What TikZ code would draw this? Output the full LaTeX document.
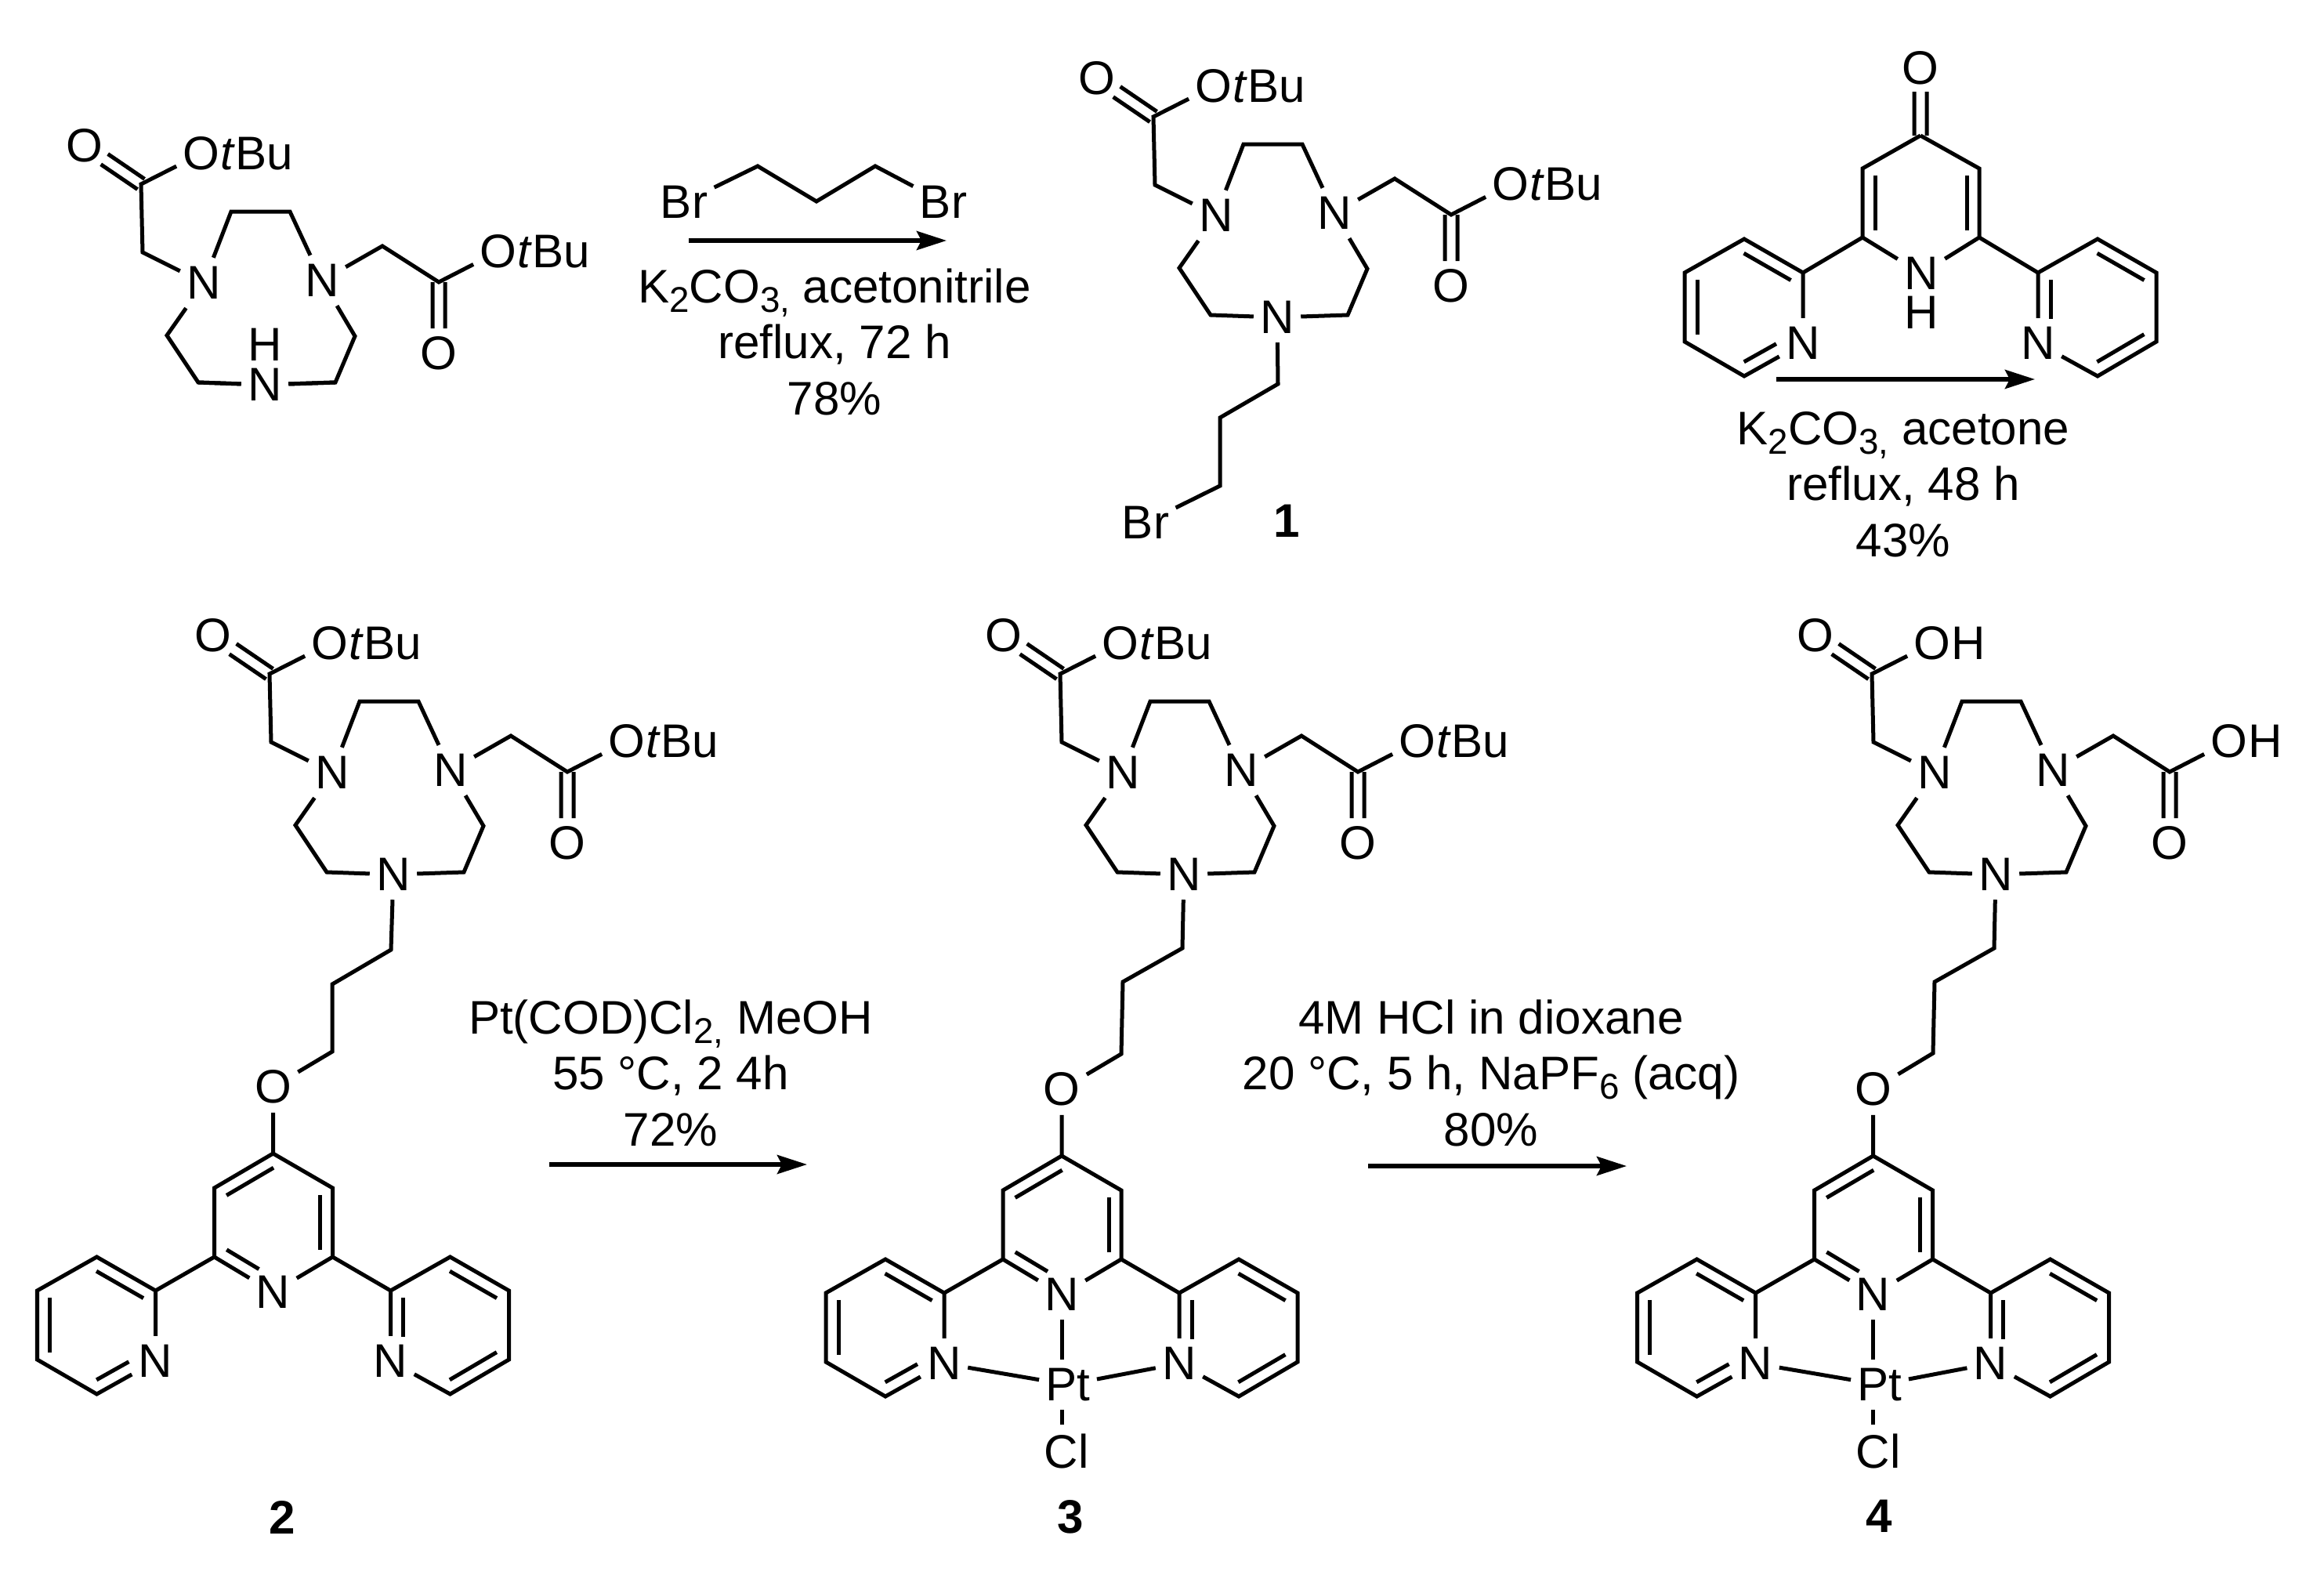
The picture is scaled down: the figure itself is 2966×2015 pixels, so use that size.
\documentclass[tikz,border=0pt]{standalone}
\usepackage{fontspec}
\setmainfont{Liberation Sans}
\usetikzlibrary{arrows.meta,calc}
\newcommand{\chemfont}[0]{\fontsize{17.1}{20.2}\selectfont}
\newcommand{\sbs}[1]{\raisebox{-.12cm}[0pt][0pt]{\fontsize{13}{14}\selectfont #1}}
\newcommand{\inbond}[3][.1]{\draw ($(#2)!.1!(#3)!.16cm!90:(#3)$) -- ($(#2)!1-#1!(#3)!.16cm!90:(#3)$);}
\newcommand{\dblbond}[2]{%
  \draw ($(#1)!.08cm!90:(#2)$) -- ($(#1)!.65!(#2)!.08cm!90:(#2)$);
  \draw ($(#1)!.08cm!-90:(#2)$) -- ($(#1)!.65!(#2)!.08cm!-90:(#2)$);}
\newcommand{\azacycle}[3]{%
  \begin{scope}[shift={(#2)}]
    \node[main node] (#1n1) at (0,0) {N};
    \node[main node] (#1n2) at (151,-3) {N};
    \node[main node] (#1n3) at (78,130) {N};
    \coordinate (#1tl) at (35,-91);
    \coordinate (#1tr) at (110,-91);
    \coordinate (#1r) at (193,68);
    \coordinate (#1br) at (168,127);
    \coordinate (#1bl) at (-7,127);
    \coordinate (#1l) at (-47,67);
    \coordinate (#1a1) at (-78,-39);
    \coordinate (#1a2) at (-80,-126);
    \node[main node] (#1a3) at (-152,-175) {O};
    \node[main node] (#1a4) at (-3,-165) {O};
    \node[tail node] (#1a5) at (#1a4.base east) {#3};
    \coordinate (#1b1) at (228,-47);
    \coordinate (#1b2) at (300,-1);
    \node[main node] (#1b3) at (300,90) {O};
    \node[main node] (#1b4) at (376,-40) {O};
    \node[tail node] (#1b5) at (#1b4.base east) {#3};
  \end{scope}
  \draw (#1n1) -- (#1tl) -- (#1tr) -- (#1n2) -- (#1r) -- (#1br) -- (#1n3) -- (#1bl) -- (#1l) -- (#1n1);
  \draw (#1n1) -- (#1a1) -- (#1a2) -- (#1a4);
  \draw (#1n2) -- (#1b1) -- (#1b2) -- (#1b4);
  \dblbond{#1a2}{#1a3}
  \dblbond{#1b2}{#1b3}}
\newcommand{\pyridyls}[2]{%
  \begin{scope}[shift={(#2)}]
    \coordinate (#1lc) at (-150,175);
    \coordinate (#1lt) at (-225,132);
    \coordinate (#1lu) at (-301,175);
    \coordinate (#1ld) at (-301,263);
    \coordinate (#1lb) at (-225,307);
    \node[main node] (#1ln) at (-150,265) {N};
    \coordinate (#1rc) at (150,175);
    \coordinate (#1rt) at (226,132);
    \coordinate (#1ru) at (301,175);
    \coordinate (#1rd) at (301,263);
    \coordinate (#1rb) at (226,307);
    \node[main node] (#1rn) at (150,265) {N};
  \end{scope}
  \draw (#1lc) -- (#1lt) -- (#1lu) -- (#1ld) -- (#1lb) -- (#1ln) -- (#1lc);
  \draw (#1rc) -- (#1rt) -- (#1ru) -- (#1rd) -- (#1rb) -- (#1rn) -- (#1rc);
  \inbond{#1lc}{#1lt}
  \inbond{#1lu}{#1ld}
  \inbond[.35]{#1lb}{#1ln}
  \inbond[.35]{#1rc}{#1rn}
  \inbond{#1rb}{#1rd}
  \inbond{#1ru}{#1rt}}
\newcommand{\terpy}[2]{%
  \pyridyls{#1}{#2}
  \begin{scope}[shift={(#2)}]
    \coordinate (#1p) at (0,0);
    \coordinate (#1cl) at (-75,44);
    \coordinate (#1dl) at (-75,132);
    \coordinate (#1cr) at (76,44);
    \coordinate (#1dr) at (76,132);
    \node[main node] (#1cn) at (0,177) {N};
    \node[main node] (#1o) at (0,-85) {O};
  \end{scope}
  \draw (#1p) -- (#1cl) -- (#1dl) -- (#1cn) -- (#1dr) -- (#1cr) -- (#1p) -- (#1o);
  \draw (#1dl) -- (#1lc);
  \draw (#1dr) -- (#1rc);
  \inbond{#1p}{#1cl}
  \inbond[.35]{#1dl}{#1cn}
  \inbond{#1dr}{#1cr}}
\newcommand{\platinum}[3]{%
  \node[main node] (#1pt) at (#2) {Pt};
  \node[main node] (#1chl) at (#3) {Cl};
  \draw (#1cn) -- (#1cn |- #1pt.north);
  \draw (#1cn |- #1pt.south) -- (#1cn |- #1chl.north);
  \draw (#1ln) -- (#1pt);
  \draw (#1rn) -- (#1pt);}

\begin{document}
\begin{tikzpicture}[x=.01cm,y=-.01cm,line width=.05cm,
  >={Stealth[length=.38cm,width=.24cm,inset=.06cm]},
  main node/.style={font=\chemfont,inner xsep=.06cm,inner ysep=.09cm},
  tail node/.style={font=\chemfont,anchor=base west,inner sep=0pt,xshift=-.1cm},
  text node/.style={font=\chemfont,align=center,inner sep=0pt,anchor=base},
  number node/.style={font=\chemfont\bfseries,inner sep=0pt},
  rxn/.style={->,line width=.055cm}]

  \useasboundingbox (0,0) rectangle (2966,2015);

  \azacycle{s}{260,361}{\textit{t}Bu}
  \node[main node] (sh) at (338,440) {H};
  \draw (sbr) -- (sn3) -- (sbl);

  \node[main node] (101) at (873,258) {Br};
  \node[main node] (102) at (1204,258) {Br};
  \coordinate (103) at (967,212);
  \coordinate (104) at (1042,257);
  \coordinate (105) at (1117,212);
  \draw (101) -- (103) -- (104) -- (105) -- (102);
  \coordinate (106) at (879,307);
  \coordinate (107) at (1208,307);
  \path[rxn] (106) edge (107);
  \node[text node] (108) at (1065,529)
    {K\sbs{2}CO\sbs{3,} acetonitrile\\reflux, 72 h\\78\%};

  \azacycle{a}{1552,275}{\textit{t}Bu}
  \coordinate (ac1) at (1631,490);
  \coordinate (ac2) at (1557,533);
  \coordinate (ac3) at (1557,620);
  \node[main node] (abr) at (1462,667) {Br};
  \draw (an3) -- (ac1) -- (ac2) -- (ac3) -- (abr);
  \node[number node] (lab1) at (1642,665) {1};

  \pyridyls{b}{2451,173}
  \coordinate (bp) at (2451,173);
  \node[main node] (bo) at (2451,87) {O};
  \coordinate (bcl) at (2377,215);
  \coordinate (bdl) at (2377,303);
  \coordinate (bcr) at (2526,215);
  \coordinate (bdr) at (2526,303);
  \node[main node] (bn) at (2452,349) {N};
  \node[main node] (bh) at (2452,399) {H};
  \draw (bp) -- (bcl) -- (bdl) -- (bn) -- (bdr) -- (bcr) -- (bp);
  \draw (bdl) -- (blc);
  \draw (bdr) -- (brc);
  \dblbond{bp}{bo}
  \inbond{bcl}{bdl}
  \inbond{bdr}{bcr}
  \coordinate (109) at (2267,484);
  \coordinate (110) at (2597,484);
  \path[rxn] (109) edge (110);
  \node[text node] (111) at (2429,710)
    {K\sbs{2}CO\sbs{3,} acetone\\reflux, 48 h\\43\%};

  \azacycle{c}{424,986}{\textit{t}Bu}
  \terpy{c}{348.5,1472}
  \coordinate (cc1) at (499,1212);
  \coordinate (cc2) at (424,1256);
  \coordinate (cc3) at (424,1342);
  \draw (cn3) -- (cc1) -- (cc2) -- (cc3) -- (co);
  \node[number node] (lab2) at (360,1936) {2};

  \coordinate (112) at (701,1486);
  \coordinate (113) at (1030,1486);
  \path[rxn] (112) edge (113);
  \node[text node] (114) at (856,1462)
    {Pt(COD)Cl\sbs{2,} MeOH\\55 °C, 2 4h\\72\%};

  \azacycle{d}{1433,986}{\textit{t}Bu}
  \terpy{d}{1355,1475}
  \coordinate (dc1) at (1509,1210);
  \coordinate (dc2) at (1433,1253);
  \coordinate (dc3) at (1431,1345);
  \draw (dn3) -- (dc1) -- (dc2) -- (dc3) -- (do);
  \platinum{d}{1363,1767}{1361,1852}
  \node[number node] (lab3) at (1366,1936) {3};

  \coordinate (115) at (1746,1488);
  \coordinate (116) at (2076,1488);
  \path[rxn] (115) edge (116);
  \node[text node] (117) at (1903,1462)
    {4M HCl in dioxane\\20 °C, 5 h, NaPF\sbs{6} (acq)\\80\%};

  \azacycle{e}{2469,986}{H}
  \terpy{e}{2390.6,1475}
  \coordinate (ec1) at (2545,1210);
  \coordinate (ec2) at (2469,1253);
  \coordinate (ec3) at (2467,1344);
  \draw (en3) -- (ec1) -- (ec2) -- (ec3) -- (eo);
  \platinum{e}{2399,1767}{2397,1852}
  \node[number node] (lab4) at (2398,1935) {4};

\end{tikzpicture}
\end{document}
